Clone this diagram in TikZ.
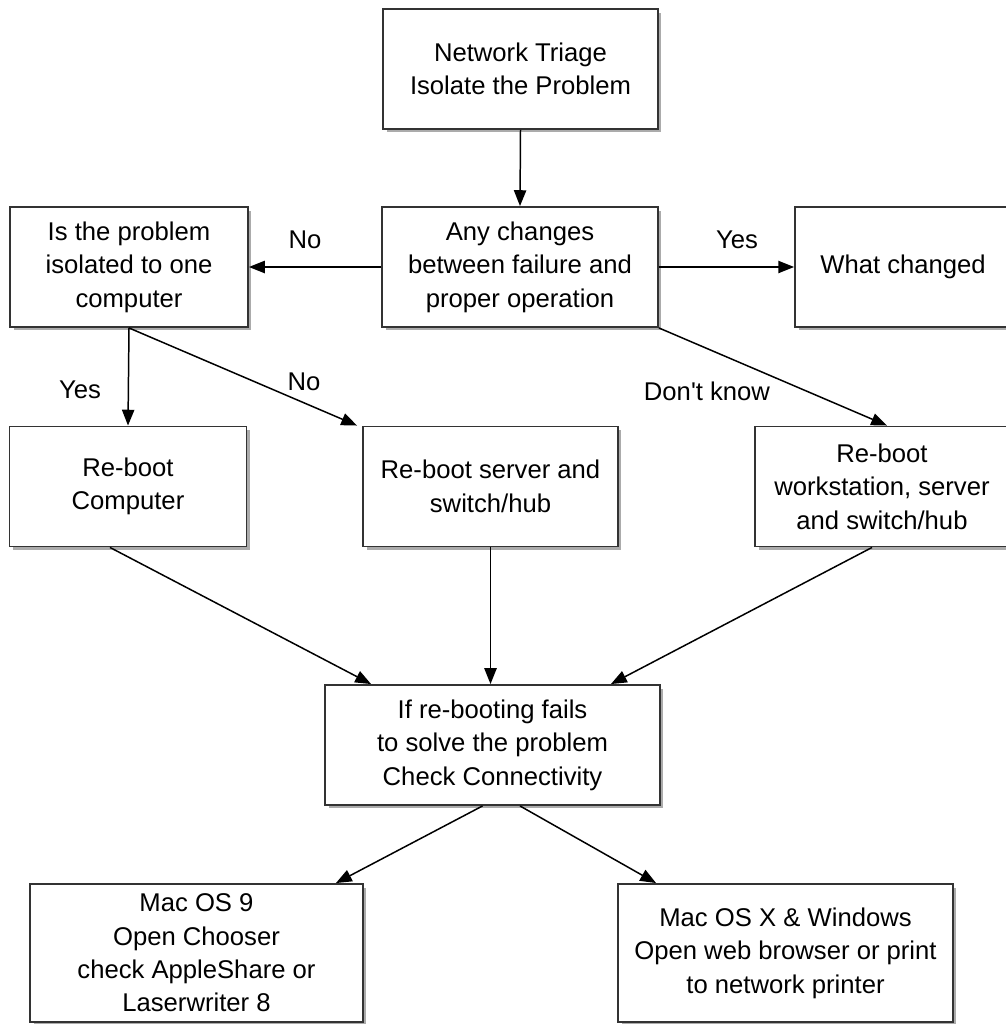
\documentclass[tikz,border=0pt]{standalone}
\usepackage{fontspec}
\setmainfont{Liberation Sans}[Ligatures=TeXOff]
\usetikzlibrary{arrows.meta,shadows}
\tikzstyle{every node}=[font=\fontsize{14.6}{19}\selectfont]
\tikzstyle{box}=[draw=black!80, line width=1.1pt, fill=white, align=center, inner sep=0pt,
  minimum height=2.4cm, drop shadow={shadow xshift=0.07cm, shadow yshift=-0.07cm, fill=black!55, opacity=0.6}]
\tikzstyle{answer}=[inner sep=1pt]
\tikzset{>={Triangle[length=9pt,width=7pt]}}

\begin{document}
\begin{tikzpicture}[x=0.02cm, y=-0.02cm, line width=0.85pt]
\useasboundingbox (0,0) rectangle (1005,1024);

\node (triage)   [box, minimum width=5.5cm]  at (520.5,69)  {Network Triage\\Isolate the Problem};
\node (changes)  [box, minimum width=5.52cm] at (520,267)   {Any changes\\between failure and\\proper operation};
\node (isolated) [box, minimum width=4.76cm] at (129,267)   {Is the problem\\isolated to one\\computer};
\node (what)     [box, minimum width=4.32cm] at (903,267)   {What changed};
\node (computer) [box, minimum width=4.74cm] at (128,486.5) {Re-boot\\Computer};
\node (server)   [box, minimum width=5.1cm]  at (490.5,486.5) {Re-boot server and\\switch/hub};
\node (workst)   [box, minimum width=5.08cm] at (882,486.5) {Re-boot\\workstation, server\\and switch/hub};
\node (connect)  [box, minimum width=6.7cm]  at (492.5,745) {If re-booting fails\\to solve the problem\\Check Connectivity};
\node (macnine)  [box, minimum width=6.66cm, minimum height=2.76cm] at (196.5,953)
  {Mac OS 9\\Open Chooser\\check AppleShare or\\Laserwriter 8};
\node (macx)     [box, minimum width=6.7cm, minimum height=2.76cm]  at (785.5,953)
  {Mac OS X \& Windows\\Open web browser or print\\to network printer};

\node (nochange) [answer] at (305,240) {No};
\node (yeschange) [answer] at (737,240) {Yes};
\node (yesone)   [answer] at (80,390)  {Yes};
\node (noone)    [answer] at (304,382) {No};
\node (dunno)    [answer] at (707,391) {Don't know};

\draw [->] (triage.south) -- (changes.north);
\draw [->] (changes.west) -- (isolated.east);
\draw [->] (changes.east) -- (what.west);
\draw [->] (changes.south east) -- ([xshift=0.1cm]workst.north);
\draw [->] (isolated.south) -- (computer.north);
\draw [->] (isolated.south) -- ([xshift=-0.1cm]server.north west);
\draw [->] ([xshift=-0.36cm]computer.south) -- ([xshift=0.94cm]connect.north west);
\draw [->] (server.south) -- (server.south |- connect.north);
\draw [->] ([xshift=-0.2cm]workst.south) -- ([xshift=-1cm]connect.north east);
\draw [->] ([xshift=-0.2cm]connect.south) -- ([xshift=-0.56cm]macnine.north east);
\draw [->] ([xshift=0.55cm]connect.south) -- ([xshift=0.78cm]macx.north west);

\end{tikzpicture}
\end{document}
